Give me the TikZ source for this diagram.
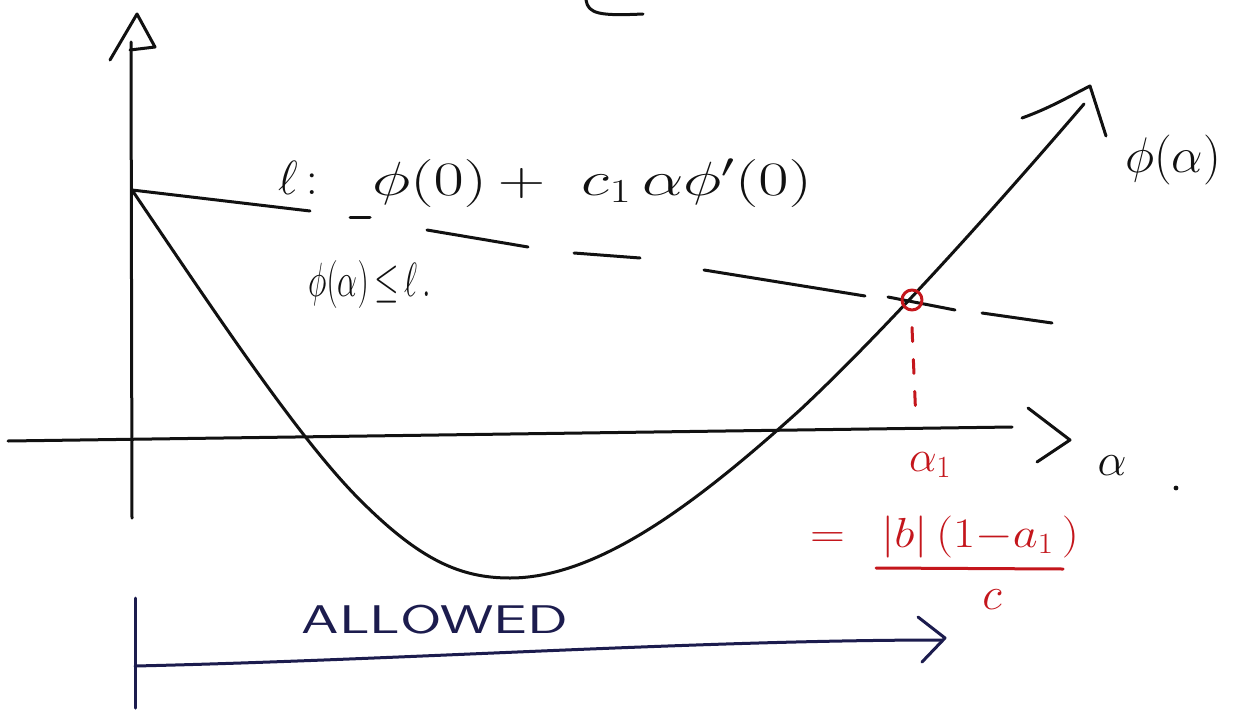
\RequirePackage{fix-cm}
\documentclass[tikz,border=0pt]{standalone}
\usepackage{amsmath}
\definecolor{penred}{HTML}{C4161C}
\definecolor{penblue}{HTML}{1C1C4E}
\definecolor{ink}{HTML}{111111}
\begin{document}
\begin{tikzpicture}[x=1pt,y=-1pt,line cap=round,line join=round,
  inkline/.style={draw=ink,line width=3pt},
  redline/.style={draw=penred,line width=3pt},
  blueline/.style={draw=penblue,line width=3pt},
  lbl/.style={inner sep=0pt,text=ink},
  redlbl/.style={inner sep=0pt,text=penred}]
\useasboundingbox (0,0) rectangle (1246,709);
\fill[white] (0,0) rectangle (1246,709);

% partial letter at top
\draw[inkline] (586,0) .. controls (588,14) and (600,16) .. (643,14);

% vertical axis
\coordinate (ybot) at (132,518);
\coordinate (ytop) at (131,42);
\draw[inkline] (ybot) -- (ytop);
\draw[inkline] (110,60) -- (137,14) -- (155,47) -- (130,50);

% horizontal axis
\coordinate (xl) at (8,441);
\coordinate (xr) at (1012,427);
\draw[inkline] (xl) -- (xr);
\draw[inkline] (1028,408) -- (1070,440) -- (1037,462);
\node[lbl] (alab) at (1112,466) {\fontsize{46}{48}\selectfont $\alpha$};
\fill[ink] (1176,488) circle (2.4);

% curve phi(alpha)
\draw[inkline] (132,190) .. controls (220,320) and (300,440) .. (360,500)
  .. controls (420,560) and (460,578) .. (510,578)
  .. controls (600,578) and (700,500) .. (800,410)
  .. controls (880,335) and (980,225) .. (1084,104);
\draw[inkline] (1022,118) .. controls (1050,108) and (1070,96) .. (1090,86) -- (1106,136);
\node[lbl] (philab) at (1173,160) {\fontsize{50}{52}\selectfont $\phi(\alpha)$};

% line l (dashed)
\coordinate (l0) at (132,190);
\draw[inkline] (l0) -- (310,211);
\draw[inkline] (350,217) -- (370,217);
\draw[inkline] (427,230) -- (528,247);
\draw[inkline] (574,253) -- (640,258);
\draw[inkline] (704,270) -- (865,296);
\draw[inkline] (888,297) -- (955,310);
\draw[inkline] (982,313) -- (1052,323);

\node[lbl] (ell) at (298,178) {\fontsize{48}{50}\selectfont $\ell\,{:}$};
\node[lbl,anchor=west] (ldef) at (372,183) {\scalebox{1.37}[1]{\fontsize{48}{50}\selectfont $\phi(0)\,{+}\;\; c_1\,\alpha\phi'(0)$}};
\node[lbl,anchor=west] (cond) at (308,284) {\scalebox{0.66}[1]{\fontsize{48}{50}\selectfont $\phi(\alpha)\,{\le}\,\ell\,.$}};

% intersection point alpha_1
\node[draw=penred,line width=3pt,circle,minimum size=20pt,inner sep=0pt] (pt) at (912,300) {};
\coordinate (foot) at (916,422);
\draw[redline,dash pattern=on 14pt off 18pt] (pt.south) ++(0,16) -- (foot);
\node[redlbl] (a1) at (930,465) {\fontsize{44}{46}\selectfont $\alpha_1$};
\node[redlbl,anchor=west] (eq) at (810,537) {\scalebox{1.15}[1]{\fontsize{42}{44}\selectfont $=\ \,|b|\,(1{-}a_1\,)$}};
\coordinate (fl) at (876,568);
\coordinate (fr) at (1063,569);
\draw[redline] (fl) -- (fr);
\node[redlbl] (den) at (992,600) {\fontsize{46}{48}\selectfont $c$};

% allowed range
\node[lbl,text=penblue] (allowed) at (435,620) {\scalebox{1.5}[1]{\fontsize{40}{42}\selectfont\sffamily ALLOWED}};
\coordinate (b0) at (135,598);
\coordinate (b1) at (135,708);
\draw[blueline] (b0) -- (b1);
\draw[blueline] (135,666) .. controls (400,660) and (700,640) .. (942,640);
\draw[blueline] (918,617) -- (945,638) -- (922,662);
\end{tikzpicture}
\end{document}
